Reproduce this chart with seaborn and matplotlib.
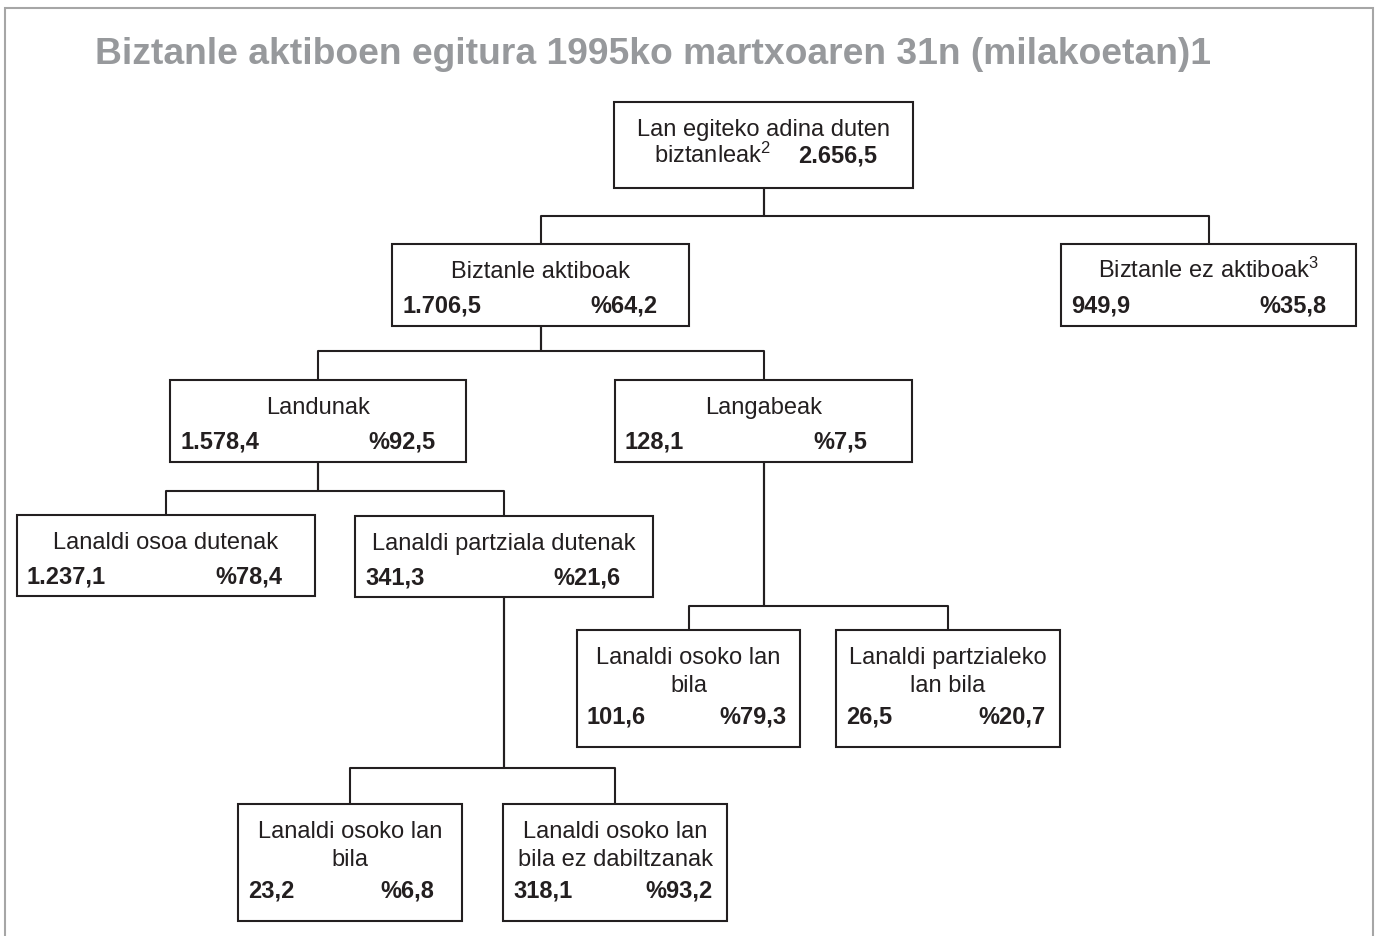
import numpy as np
import pandas as pd
import matplotlib
matplotlib.use("Agg")
import matplotlib.pyplot as plt
from matplotlib.patches import Rectangle
import seaborn as sns

# tree data (thousands of people, 31 March 1995)
labels = ["Lan egiteko adina duten\nbiztanleak$^{2}$", "Biztanle aktiboak", "Biztanle ez aktiboak$^{3}$",
          "Landunak", "Langabeak", "Lanaldi osoa dutenak", "Lanaldi partziala dutenak",
          "Lanaldi osoko lan\nbila", "Lanaldi partzialeko\nlan bila",
          "Lanaldi osoko lan\nbila", "Lanaldi osoko lan\nbila ez dabiltzanak"]
values = [2656.5, 1706.5, 949.9, 1578.4, 128.1, 1237.1, 341.3, 101.6, 26.5, 23.2, 318.1]
shares = [None, 64.2, 35.8, 92.5, 7.5, 78.4, 21.6, 79.3, 20.7, 6.8, 93.2]
parents = [None, 0, 0, 1, 1, 3, 3, 4, 4, 6, 6]

title = "Biztanle aktiboen egitura 1995ko martxoaren 31n (milakoetan)1"

# layout in pixels: left, top, right, bottom
boxes = {0: (614, 103, 913, 189), 1: (392, 245, 689, 327), 2: (1061, 245, 1356, 327),
         3: (170, 381, 466, 463), 4: (615, 381, 912, 463), 5: (17, 516, 315, 597),
         6: (355, 517, 653, 598), 7: (577, 631, 800, 748), 8: (836, 631, 1060, 748),
         9: (238, 805, 462, 922), 10: (503, 805, 727, 922)}
bus_y = {0: 217, 1: 352, 3: 492, 4: 607, 6: 769}

txt_col = "#231f20"
W, H = 1378, 937

def fmt(v):
    s = f"{v:,.1f}"
    return s.replace(",", "X").replace(".", ",").replace("X", ".")

sns.set_theme(style="white")
plt.rcParams["font.family"] = ["Liberation Sans", "DejaVu Sans"]
plt.rcParams["mathtext.fontset"] = "custom"
plt.rcParams["mathtext.rm"] = "Liberation Sans"
plt.rcParams["mathtext.default"] = "regular"

fig = plt.figure(figsize=(W / 100, H / 100), dpi=100)
ax = fig.add_axes([0, 0, 1, 1])

# connectors
rows = []
for i, p in enumerate(parents):
    if p is None:
        continue
    pl, pt, pr, pb = boxes[p]
    cl, ct, cr, cb = boxes[i]
    px = (pl + pr) / 2
    cx = (cl + cr) / 2
    by = bus_y[p]
    for k, (x, y) in enumerate([(px, pb), (px, by), (cx, by), (cx, ct)]):
        rows.append({"seg": i, "ord": k, "x": x, "y": y})
links = pd.DataFrame(rows)
sns.lineplot(data=links, x="x", y="y", units="seg", estimator=None, sort=False,
             color=txt_col, lw=1.5, ax=ax, legend=False)
ax.set_xlim(0, W)
ax.set_ylim(H, 0)
ax.axis("off")

# outer frame (bottom edge cut off)
ax.plot([5, 5, 1373, 1373], [H, 9, 9, H], color="#a6a6a6", lw=1.5, solid_joinstyle="miter")

ax.text(95, 64, title, color="#97999c", fontsize=26.8, fontweight="bold", ha="left", va="baseline")

# boxes and texts
for i, lab in enumerate(labels):
    l, t, r, b = boxes[i]
    ax.add_patch(Rectangle((l, t), r - l, b - t, fill=True, facecolor="white",
                           edgecolor=txt_col, lw=1.5, zorder=3))
    cx = (l + r) / 2
    lines = lab.split("\n")
    if shares[i] is None:
        ax.text(cx, t + 33, lines[0], fontsize=17, color=txt_col, ha="center", va="baseline", zorder=4)
        ax.text(cx + 7, t + 60, lines[1], fontsize=17, color=txt_col, ha="right", va="baseline", zorder=4)
        ax.text(cx + 35, t + 60, fmt(values[i]), fontsize=17, fontweight="bold", color=txt_col,
                ha="left", va="baseline", zorder=4)
        continue
    for k, ln in enumerate(lines):
        ax.text(cx, t + 33 + 28 * k, ln, fontsize=17, color=txt_col, ha="center", va="baseline", zorder=4)
    vy = t + 33 + 28 * (len(lines) - 1) + (35 if len(lines) == 1 else 32)
    off = 198 if (r - l) > 260 else 142
    ax.text(l + 10, vy, fmt(values[i]), fontsize=17, fontweight="bold", color=txt_col,
            ha="left", va="baseline", zorder=4)
    ax.text(l + off, vy, "%" + fmt(shares[i]), fontsize=17, fontweight="bold", color=txt_col,
            ha="left", va="baseline", zorder=4)

fig.savefig("out.png", dpi=100, facecolor="white")
